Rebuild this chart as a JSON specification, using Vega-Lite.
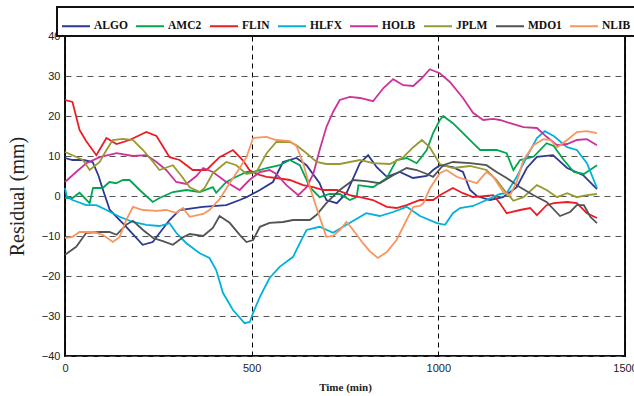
{
  "$schema": "https://vega.github.io/schema/vega-lite/v6.json",
  "width": 560,
  "height": 320,
  "autosize": {"type": "none"},
  "padding": {"left": 65, "top": 36, "right": 9, "bottom": 40},
  "background": "white",
  "config": {
    "view": {"stroke": "#111", "strokeWidth": 2},
    "axis": {"labelFont": "Liberation Sans", "labelFontSize": 11, "labelColor": "#222", "domain": false, "ticks": false}
  },
  "datasets": {
    "d": [
      {"s":"ALGO","t":0,"r":9.5},{"s":"ALGO","t":20,"r":9},{"s":"ALGO","t":50,"r":9},{"s":"ALGO","t":74,"r":8.5},{"s":"ALGO","t":90,"r":5},{"s":"ALGO","t":100,"r":2},{"s":"ALGO","t":120,"r":-3.5},{"s":"ALGO","t":164,"r":-7.7},{"s":"ALGO","t":208,"r":-12.2},{"s":"ALGO","t":235,"r":-11.5},{"s":"ALGO","t":280,"r":-6},{"s":"ALGO","t":307,"r":-3.5},{"s":"ALGO","t":369,"r":-2.7},{"s":"ALGO","t":432,"r":-2.3},{"s":"ALGO","t":468,"r":-1},{"s":"ALGO","t":486,"r":-0.3},{"s":"ALGO","t":522,"r":1.5},{"s":"ALGO","t":557,"r":3.5},{"s":"ALGO","t":584,"r":8.5},{"s":"ALGO","t":620,"r":9.5},{"s":"ALGO","t":647,"r":7.7},{"s":"ALGO","t":682,"r":3.2},{"s":"ALGO","t":700,"r":-1},{"s":"ALGO","t":728,"r":-1.8},{"s":"ALGO","t":754,"r":0.7},{"s":"ALGO","t":790,"r":8.2},{"s":"ALGO","t":812,"r":10.2},{"s":"ALGO","t":835,"r":7.2},{"s":"ALGO","t":862,"r":4.8},{"s":"ALGO","t":897,"r":6},{"s":"ALGO","t":932,"r":4.5},{"s":"ALGO","t":969,"r":5},{"s":"ALGO","t":986,"r":6.5},{"s":"ALGO","t":1004,"r":7.7},{"s":"ALGO","t":1039,"r":7.2},{"s":"ALGO","t":1066,"r":6},{"s":"ALGO","t":1085,"r":1.5},{"s":"ALGO","t":1103,"r":0},{"s":"ALGO","t":1138,"r":-1},{"s":"ALGO","t":1173,"r":-0.3},{"s":"ALGO","t":1210,"r":2.2},{"s":"ALGO","t":1237,"r":7},{"s":"ALGO","t":1264,"r":9.8},{"s":"ALGO","t":1307,"r":10.2},{"s":"ALGO","t":1345,"r":7},{"s":"ALGO","t":1388,"r":5.2},{"s":"ALGO","t":1425,"r":1.7},
      {"s":"AMC2","t":0,"r":-0.5},{"s":"AMC2","t":20,"r":-0.5},{"s":"AMC2","t":39,"r":0.8},{"s":"AMC2","t":66,"r":-1.8},{"s":"AMC2","t":75,"r":2},{"s":"AMC2","t":101,"r":2},{"s":"AMC2","t":119,"r":3.5},{"s":"AMC2","t":137,"r":3.2},{"s":"AMC2","t":155,"r":4},{"s":"AMC2","t":173,"r":4},{"s":"AMC2","t":200,"r":1.5},{"s":"AMC2","t":235,"r":-1.5},{"s":"AMC2","t":253,"r":-0.5},{"s":"AMC2","t":289,"r":1},{"s":"AMC2","t":325,"r":1.5},{"s":"AMC2","t":361,"r":1},{"s":"AMC2","t":396,"r":2.2},{"s":"AMC2","t":405,"r":0.8},{"s":"AMC2","t":432,"r":3.5},{"s":"AMC2","t":459,"r":4.8},{"s":"AMC2","t":486,"r":6},{"s":"AMC2","t":504,"r":6},{"s":"AMC2","t":540,"r":7},{"s":"AMC2","t":575,"r":7.7},{"s":"AMC2","t":602,"r":9},{"s":"AMC2","t":629,"r":7.7},{"s":"AMC2","t":656,"r":2.2},{"s":"AMC2","t":682,"r":-0.3},{"s":"AMC2","t":709,"r":0.5},{"s":"AMC2","t":736,"r":0.5},{"s":"AMC2","t":763,"r":-1},{"s":"AMC2","t":781,"r":-0.3},{"s":"AMC2","t":786,"r":2.7},{"s":"AMC2","t":825,"r":2.2},{"s":"AMC2","t":862,"r":4.5},{"s":"AMC2","t":888,"r":9},{"s":"AMC2","t":915,"r":9.5},{"s":"AMC2","t":942,"r":8.2},{"s":"AMC2","t":969,"r":11.5},{"s":"AMC2","t":986,"r":15.7},{"s":"AMC2","t":1004,"r":19},{"s":"AMC2","t":1013,"r":20},{"s":"AMC2","t":1039,"r":18.2},{"s":"AMC2","t":1066,"r":15.7},{"s":"AMC2","t":1093,"r":13.2},{"s":"AMC2","t":1112,"r":11.5},{"s":"AMC2","t":1156,"r":11.5},{"s":"AMC2","t":1183,"r":10.7},{"s":"AMC2","t":1201,"r":6.5},{"s":"AMC2","t":1219,"r":9},{"s":"AMC2","t":1255,"r":9.8},{"s":"AMC2","t":1290,"r":13.2},{"s":"AMC2","t":1309,"r":12.5},{"s":"AMC2","t":1336,"r":9},{"s":"AMC2","t":1363,"r":6},{"s":"AMC2","t":1390,"r":5.5},{"s":"AMC2","t":1425,"r":7.7},
      {"s":"FLIN","t":0,"r":24},{"s":"FLIN","t":20,"r":23.5},{"s":"FLIN","t":39,"r":16.5},{"s":"FLIN","t":57,"r":13.7},{"s":"FLIN","t":84,"r":10.2},{"s":"FLIN","t":111,"r":14.5},{"s":"FLIN","t":138,"r":13},{"s":"FLIN","t":173,"r":14},{"s":"FLIN","t":218,"r":16},{"s":"FLIN","t":245,"r":15},{"s":"FLIN","t":280,"r":9.7},{"s":"FLIN","t":307,"r":9},{"s":"FLIN","t":342,"r":6.5},{"s":"FLIN","t":379,"r":6.5},{"s":"FLIN","t":414,"r":9.7},{"s":"FLIN","t":450,"r":11.5},{"s":"FLIN","t":476,"r":9},{"s":"FLIN","t":494,"r":6.5},{"s":"FLIN","t":513,"r":5.5},{"s":"FLIN","t":540,"r":4.8},{"s":"FLIN","t":566,"r":4.5},{"s":"FLIN","t":602,"r":4},{"s":"FLIN","t":638,"r":2.7},{"s":"FLIN","t":665,"r":2.2},{"s":"FLIN","t":692,"r":1.5},{"s":"FLIN","t":728,"r":1.5},{"s":"FLIN","t":763,"r":0.2},{"s":"FLIN","t":790,"r":-0.3},{"s":"FLIN","t":825,"r":-1},{"s":"FLIN","t":862,"r":-2.7},{"s":"FLIN","t":888,"r":-3},{"s":"FLIN","t":915,"r":-2.3},{"s":"FLIN","t":951,"r":-1},{"s":"FLIN","t":986,"r":-1},{"s":"FLIN","t":1004,"r":0.2},{"s":"FLIN","t":1039,"r":2},{"s":"FLIN","t":1066,"r":0.7},{"s":"FLIN","t":1093,"r":-0.3},{"s":"FLIN","t":1147,"r":0.2},{"s":"FLIN","t":1165,"r":-1.8},{"s":"FLIN","t":1183,"r":-4.3},{"s":"FLIN","t":1219,"r":-3.5},{"s":"FLIN","t":1246,"r":-3},{"s":"FLIN","t":1264,"r":-4.8},{"s":"FLIN","t":1290,"r":-2.3},{"s":"FLIN","t":1309,"r":-1.8},{"s":"FLIN","t":1345,"r":-1.5},{"s":"FLIN","t":1371,"r":-1.8},{"s":"FLIN","t":1398,"r":-4.3},{"s":"FLIN","t":1425,"r":-5.5},
      {"s":"HLFX","t":0,"r":2},{"s":"HLFX","t":5,"r":-0.2},{"s":"HLFX","t":20,"r":-1},{"s":"HLFX","t":57,"r":-2.3},{"s":"HLFX","t":84,"r":-2.3},{"s":"HLFX","t":111,"r":-3.5},{"s":"HLFX","t":146,"r":-5.2},{"s":"HLFX","t":182,"r":-6.5},{"s":"HLFX","t":218,"r":-7.2},{"s":"HLFX","t":253,"r":-7.5},{"s":"HLFX","t":280,"r":-6.8},{"s":"HLFX","t":298,"r":-9.2},{"s":"HLFX","t":325,"r":-11.8},{"s":"HLFX","t":361,"r":-14.3},{"s":"HLFX","t":387,"r":-15.5},{"s":"HLFX","t":405,"r":-18.5},{"s":"HLFX","t":423,"r":-24.2},{"s":"HLFX","t":450,"r":-28.5},{"s":"HLFX","t":481,"r":-31.8},{"s":"HLFX","t":495,"r":-31.5},{"s":"HLFX","t":504,"r":-29.2},{"s":"HLFX","t":522,"r":-25.2},{"s":"HLFX","t":548,"r":-20.5},{"s":"HLFX","t":575,"r":-17.7},{"s":"HLFX","t":611,"r":-15.2},{"s":"HLFX","t":629,"r":-11.8},{"s":"HLFX","t":647,"r":-8.5},{"s":"HLFX","t":682,"r":-7.7},{"s":"HLFX","t":718,"r":-9.2},{"s":"HLFX","t":754,"r":-7.2},{"s":"HLFX","t":807,"r":-4.3},{"s":"HLFX","t":843,"r":-5},{"s":"HLFX","t":879,"r":-4},{"s":"HLFX","t":915,"r":-2.7},{"s":"HLFX","t":951,"r":-5},{"s":"HLFX","t":996,"r":-6.8},{"s":"HLFX","t":1018,"r":-7.2},{"s":"HLFX","t":1039,"r":-4.3},{"s":"HLFX","t":1058,"r":-3},{"s":"HLFX","t":1093,"r":-2.5},{"s":"HLFX","t":1129,"r":-1},{"s":"HLFX","t":1165,"r":0.5},{"s":"HLFX","t":1183,"r":0.7},{"s":"HLFX","t":1210,"r":4.8},{"s":"HLFX","t":1237,"r":9.8},{"s":"HLFX","t":1264,"r":14.5},{"s":"HLFX","t":1285,"r":16.2},{"s":"HLFX","t":1309,"r":15},{"s":"HLFX","t":1345,"r":12.2},{"s":"HLFX","t":1371,"r":11.5},{"s":"HLFX","t":1398,"r":8.2},{"s":"HLFX","t":1425,"r":2},
      {"s":"HOLB","t":0,"r":3.5},{"s":"HOLB","t":30,"r":6},{"s":"HOLB","t":57,"r":8.2},{"s":"HOLB","t":93,"r":9.7},{"s":"HOLB","t":138,"r":10.7},{"s":"HOLB","t":182,"r":10},{"s":"HOLB","t":218,"r":10.2},{"s":"HOLB","t":245,"r":8.5},{"s":"HOLB","t":271,"r":6.5},{"s":"HOLB","t":298,"r":3.5},{"s":"HOLB","t":325,"r":3},{"s":"HOLB","t":352,"r":5},{"s":"HOLB","t":370,"r":7},{"s":"HOLB","t":396,"r":6},{"s":"HOLB","t":432,"r":3.5},{"s":"HOLB","t":468,"r":1.5},{"s":"HOLB","t":494,"r":4},{"s":"HOLB","t":522,"r":6},{"s":"HOLB","t":548,"r":6.5},{"s":"HOLB","t":566,"r":5.5},{"s":"HOLB","t":593,"r":2.7},{"s":"HOLB","t":625,"r":0.2},{"s":"HOLB","t":647,"r":2.2},{"s":"HOLB","t":665,"r":5.5},{"s":"HOLB","t":682,"r":11.5},{"s":"HOLB","t":700,"r":17.2},{"s":"HOLB","t":718,"r":21},{"s":"HOLB","t":736,"r":24},{"s":"HOLB","t":763,"r":24.8},{"s":"HOLB","t":790,"r":24.5},{"s":"HOLB","t":825,"r":23.7},{"s":"HOLB","t":853,"r":27},{"s":"HOLB","t":879,"r":29.2},{"s":"HOLB","t":906,"r":27.7},{"s":"HOLB","t":933,"r":27.5},{"s":"HOLB","t":956,"r":29.5},{"s":"HOLB","t":977,"r":31.7},{"s":"HOLB","t":1004,"r":30.7},{"s":"HOLB","t":1031,"r":28.5},{"s":"HOLB","t":1066,"r":24.5},{"s":"HOLB","t":1093,"r":20.8},{"s":"HOLB","t":1120,"r":19},{"s":"HOLB","t":1147,"r":19.3},{"s":"HOLB","t":1165,"r":19},{"s":"HOLB","t":1192,"r":18.2},{"s":"HOLB","t":1228,"r":17.2},{"s":"HOLB","t":1264,"r":17},{"s":"HOLB","t":1290,"r":14.8},{"s":"HOLB","t":1318,"r":12.7},{"s":"HOLB","t":1345,"r":13},{"s":"HOLB","t":1371,"r":14},{"s":"HOLB","t":1398,"r":14.2},{"s":"HOLB","t":1425,"r":12.7},
      {"s":"JPLM","t":0,"r":11},{"s":"JPLM","t":20,"r":10.2},{"s":"JPLM","t":48,"r":9},{"s":"JPLM","t":66,"r":6.5},{"s":"JPLM","t":93,"r":8.5},{"s":"JPLM","t":111,"r":11.5},{"s":"JPLM","t":128,"r":14},{"s":"JPLM","t":155,"r":14.3},{"s":"JPLM","t":182,"r":14},{"s":"JPLM","t":209,"r":11.5},{"s":"JPLM","t":236,"r":8.5},{"s":"JPLM","t":253,"r":6.5},{"s":"JPLM","t":289,"r":7.7},{"s":"JPLM","t":312,"r":5},{"s":"JPLM","t":334,"r":2.2},{"s":"JPLM","t":361,"r":1},{"s":"JPLM","t":374,"r":2},{"s":"JPLM","t":396,"r":5.7},{"s":"JPLM","t":432,"r":8.5},{"s":"JPLM","t":459,"r":7.7},{"s":"JPLM","t":486,"r":5.5},{"s":"JPLM","t":513,"r":6},{"s":"JPLM","t":540,"r":10.7},{"s":"JPLM","t":566,"r":13.5},{"s":"JPLM","t":602,"r":13.5},{"s":"JPLM","t":620,"r":12.7},{"s":"JPLM","t":647,"r":10.7},{"s":"JPLM","t":674,"r":8.5},{"s":"JPLM","t":700,"r":8},{"s":"JPLM","t":736,"r":8},{"s":"JPLM","t":790,"r":9},{"s":"JPLM","t":825,"r":8.2},{"s":"JPLM","t":870,"r":8},{"s":"JPLM","t":906,"r":9.7},{"s":"JPLM","t":933,"r":12.2},{"s":"JPLM","t":956,"r":14},{"s":"JPLM","t":977,"r":12.2},{"s":"JPLM","t":1004,"r":8},{"s":"JPLM","t":1039,"r":7},{"s":"JPLM","t":1085,"r":7.5},{"s":"JPLM","t":1129,"r":6.5},{"s":"JPLM","t":1156,"r":4},{"s":"JPLM","t":1183,"r":0.7},{"s":"JPLM","t":1201,"r":-1.2},{"s":"JPLM","t":1228,"r":-0.3},{"s":"JPLM","t":1264,"r":2.7},{"s":"JPLM","t":1290,"r":1.5},{"s":"JPLM","t":1318,"r":-0.3},{"s":"JPLM","t":1345,"r":0.7},{"s":"JPLM","t":1371,"r":-0.3},{"s":"JPLM","t":1398,"r":0.2},{"s":"JPLM","t":1425,"r":0.5},
      {"s":"MDO1","t":0,"r":-14.7},{"s":"MDO1","t":30,"r":-12.7},{"s":"MDO1","t":57,"r":-9.2},{"s":"MDO1","t":93,"r":-9},{"s":"MDO1","t":119,"r":-9},{"s":"MDO1","t":138,"r":-9.7},{"s":"MDO1","t":164,"r":-7.2},{"s":"MDO1","t":182,"r":-6.2},{"s":"MDO1","t":209,"r":-8.5},{"s":"MDO1","t":236,"r":-10.5},{"s":"MDO1","t":262,"r":-11.3},{"s":"MDO1","t":289,"r":-12.2},{"s":"MDO1","t":316,"r":-10.3},{"s":"MDO1","t":334,"r":-9.5},{"s":"MDO1","t":370,"r":-10},{"s":"MDO1","t":396,"r":-8},{"s":"MDO1","t":414,"r":-5},{"s":"MDO1","t":441,"r":-6.7},{"s":"MDO1","t":468,"r":-9.7},{"s":"MDO1","t":486,"r":-11.5},{"s":"MDO1","t":504,"r":-11},{"s":"MDO1","t":522,"r":-7.7},{"s":"MDO1","t":548,"r":-6.7},{"s":"MDO1","t":584,"r":-6.5},{"s":"MDO1","t":611,"r":-6},{"s":"MDO1","t":656,"r":-6},{"s":"MDO1","t":674,"r":-4.7},{"s":"MDO1","t":700,"r":-1.8},{"s":"MDO1","t":727,"r":0.7},{"s":"MDO1","t":736,"r":1.5},{"s":"MDO1","t":772,"r":4},{"s":"MDO1","t":807,"r":3.7},{"s":"MDO1","t":843,"r":3.2},{"s":"MDO1","t":879,"r":5.2},{"s":"MDO1","t":915,"r":7},{"s":"MDO1","t":942,"r":6.5},{"s":"MDO1","t":969,"r":5.5},{"s":"MDO1","t":986,"r":4.8},{"s":"MDO1","t":1013,"r":7.7},{"s":"MDO1","t":1039,"r":8.5},{"s":"MDO1","t":1085,"r":8.2},{"s":"MDO1","t":1129,"r":7.7},{"s":"MDO1","t":1156,"r":6},{"s":"MDO1","t":1183,"r":4.5},{"s":"MDO1","t":1219,"r":2.2},{"s":"MDO1","t":1255,"r":0.2},{"s":"MDO1","t":1290,"r":-1.5},{"s":"MDO1","t":1326,"r":-5},{"s":"MDO1","t":1353,"r":-4},{"s":"MDO1","t":1371,"r":-2.3},{"s":"MDO1","t":1390,"r":-2.3},{"s":"MDO1","t":1407,"r":-5.2},{"s":"MDO1","t":1425,"r":-6.8},
      {"s":"NLIB","t":0,"r":-10.5},{"s":"NLIB","t":20,"r":-10.2},{"s":"NLIB","t":39,"r":-9},{"s":"NLIB","t":75,"r":-9},{"s":"NLIB","t":101,"r":-9.7},{"s":"NLIB","t":128,"r":-11.5},{"s":"NLIB","t":146,"r":-10.3},{"s":"NLIB","t":164,"r":-6},{"s":"NLIB","t":182,"r":-2.7},{"s":"NLIB","t":209,"r":-3.5},{"s":"NLIB","t":245,"r":-3.7},{"s":"NLIB","t":271,"r":-3.5},{"s":"NLIB","t":298,"r":-4.2},{"s":"NLIB","t":316,"r":-3},{"s":"NLIB","t":334,"r":-5.2},{"s":"NLIB","t":370,"r":-4.5},{"s":"NLIB","t":387,"r":-3.5},{"s":"NLIB","t":414,"r":-0.8},{"s":"NLIB","t":441,"r":3.2},{"s":"NLIB","t":468,"r":7},{"s":"NLIB","t":486,"r":9.7},{"s":"NLIB","t":504,"r":14.5},{"s":"NLIB","t":540,"r":14.8},{"s":"NLIB","t":566,"r":14},{"s":"NLIB","t":602,"r":13.7},{"s":"NLIB","t":620,"r":12.5},{"s":"NLIB","t":638,"r":8.2},{"s":"NLIB","t":656,"r":2.2},{"s":"NLIB","t":674,"r":-3},{"s":"NLIB","t":700,"r":-10.2},{"s":"NLIB","t":718,"r":-10},{"s":"NLIB","t":736,"r":-8.5},{"s":"NLIB","t":754,"r":-6.5},{"s":"NLIB","t":772,"r":-8.5},{"s":"NLIB","t":798,"r":-11.8},{"s":"NLIB","t":816,"r":-13.8},{"s":"NLIB","t":838,"r":-15.5},{"s":"NLIB","t":862,"r":-14},{"s":"NLIB","t":888,"r":-11},{"s":"NLIB","t":915,"r":-6},{"s":"NLIB","t":933,"r":-2.7},{"s":"NLIB","t":951,"r":-2.5},{"s":"NLIB","t":960,"r":-1.8},{"s":"NLIB","t":977,"r":1.8},{"s":"NLIB","t":1004,"r":5.7},{"s":"NLIB","t":1022,"r":6.5},{"s":"NLIB","t":1049,"r":4.8},{"s":"NLIB","t":1076,"r":4},{"s":"NLIB","t":1103,"r":3.2},{"s":"NLIB","t":1129,"r":6},{"s":"NLIB","t":1147,"r":4.8},{"s":"NLIB","t":1174,"r":1},{"s":"NLIB","t":1192,"r":0.2},{"s":"NLIB","t":1210,"r":3.5},{"s":"NLIB","t":1228,"r":9},{"s":"NLIB","t":1255,"r":12.7},{"s":"NLIB","t":1281,"r":14.2},{"s":"NLIB","t":1300,"r":14},{"s":"NLIB","t":1318,"r":12.2},{"s":"NLIB","t":1345,"r":14},{"s":"NLIB","t":1371,"r":16},{"s":"NLIB","t":1398,"r":16.2},{"s":"NLIB","t":1425,"r":15.7}
    ]
  },
  "data": {"name": "d"},
  "mark": {"type": "line", "strokeWidth": 1.8},
  "encoding": {
    "x": {
      "field": "t", "type": "quantitative",
      "scale": {"domain": [0, 1500], "nice": false},
      "axis": {"values": [0, 500, 1000, 1500], "format": "d", "title": "Time (min)", "titleFont": "Liberation Serif", "titleFontWeight": "bold", "titleFontSize": 11, "titleColor": "#222", "titlePadding": 8, "labelPadding": 6, "grid": true, "gridColor": "#000", "gridDash": [5, 4], "gridWidth": 1, "labelFlush": false}
    },
    "y": {
      "field": "r", "type": "quantitative",
      "scale": {"domain": [-40, 40], "nice": false},
      "axis": {"values": [-40, -30, -20, -10, 0, 10, 20, 30, 40], "format": "d", "title": "Residual (mm)", "titleFont": "Liberation Serif", "titleFontWeight": "normal", "titleFontSize": 20, "titleColor": "#222", "titlePadding": 14, "labelPadding": 5, "grid": true, "gridColor": "#555", "gridDash": [6, 5], "gridWidth": 1}
    },
    "color": {
      "field": "s", "type": "nominal",
      "scale": {"domain": ["ALGO","AMC2","FLIN","HLFX","HOLB","JPLM","MDO1","NLIB"], "range": ["#2B3990","#00A651","#ED1C24","#00B2DB","#CC3399","#999933","#4F5455","#F7965F"]},
      "legend": {
        "title": null, "orient": "none", "legendX": -8, "legendY": -29, "direction": "horizontal", "columns": 8,
        "symbolType": "stroke", "symbolSize": 784, "symbolStrokeWidth": 2,
        "labelFont": "Liberation Serif", "labelFontWeight": "bold", "labelFontSize": 11.5, "labelColor": "#111", "labelOffset": 3,
        "columnPadding": 4, "padding": 4,
        "encode": {"legend": {"update": {"stroke": {"value": "#111"}, "strokeWidth": {"value": 2}, "fill": {"value": "white"}}}}
      }
    }
  }
}
